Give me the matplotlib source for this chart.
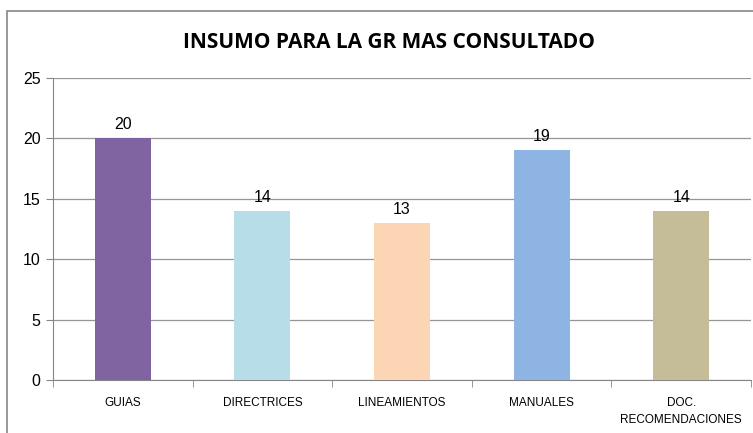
import matplotlib
matplotlib.use("Agg")
import matplotlib.pyplot as plt
from matplotlib.patches import Rectangle
import numpy as np

# ---------------------------------------------------------------------------
# data
# ---------------------------------------------------------------------------
categories = ["GUIAS", "DIRECTRICES", "LINEAMIENTOS", "MANUALES", "DOC.\nRECOMENDACIONES"]
values = [20, 14, 13, 19, 14]
bar_colors = ["#8064A2", "#B7DEE8", "#FCD5B5", "#8EB4E3", "#C4BD97"]
y_ticks = [0, 5, 10, 15, 20, 25]
title = "INSUMO PARA LA GR MAS CONSULTADO"

plt.rcParams["font.family"] = ["Liberation Sans", "DejaVu Sans"]

fig = plt.figure(figsize=(7.53, 4.33), dpi=100)
ax = fig.add_axes([0.0704, 0.1224, 0.927, 0.6975])

# chart frame (cut off at right / bottom like the source)
fig.patches.append(Rectangle((0.0093, -0.1), 1.2, 0.9746 + 0.1, transform=fig.transFigure,
                             fill=False, edgecolor="#868686", linewidth=1.2))

x = np.arange(len(categories))
bars = ax.bar(x, values, width=0.4, color=bar_colors, zorder=3)
for xi, v in zip(x, values):
    ax.text(xi, v + 0.5, str(v), ha="center", va="bottom", fontsize=11.5, color="#000000")

ax.set_xlim(-0.5, len(categories) - 0.5)
ax.set_ylim(0, 25)
ax.set_yticks(y_ticks)
ax.tick_params(axis="y", labelsize=11.5, length=5, color="#868686", pad=4)
ax.yaxis.grid(True, color="#969696", linewidth=0.9, zorder=0)

ax.set_xticks(x)
ax.set_xticklabels(categories, fontsize=8.5, linespacing=1.6)
ax.tick_params(axis="x", length=0, pad=12)
ax.set_xticks(np.arange(-0.5, len(categories), 1), minor=True)
ax.tick_params(axis="x", which="minor", length=5, color="#868686")

for side in ["top", "right"]:
    ax.spines[side].set_visible(False)
ax.spines["left"].set_color("#868686")
ax.spines["bottom"].set_color("#868686")

fig.text(0.516, 0.903, title, ha="center", va="center", fontsize=15, fontweight="bold",
         family=["Open Sans", "DejaVu Sans"])

fig.savefig("out.png", dpi=100)
